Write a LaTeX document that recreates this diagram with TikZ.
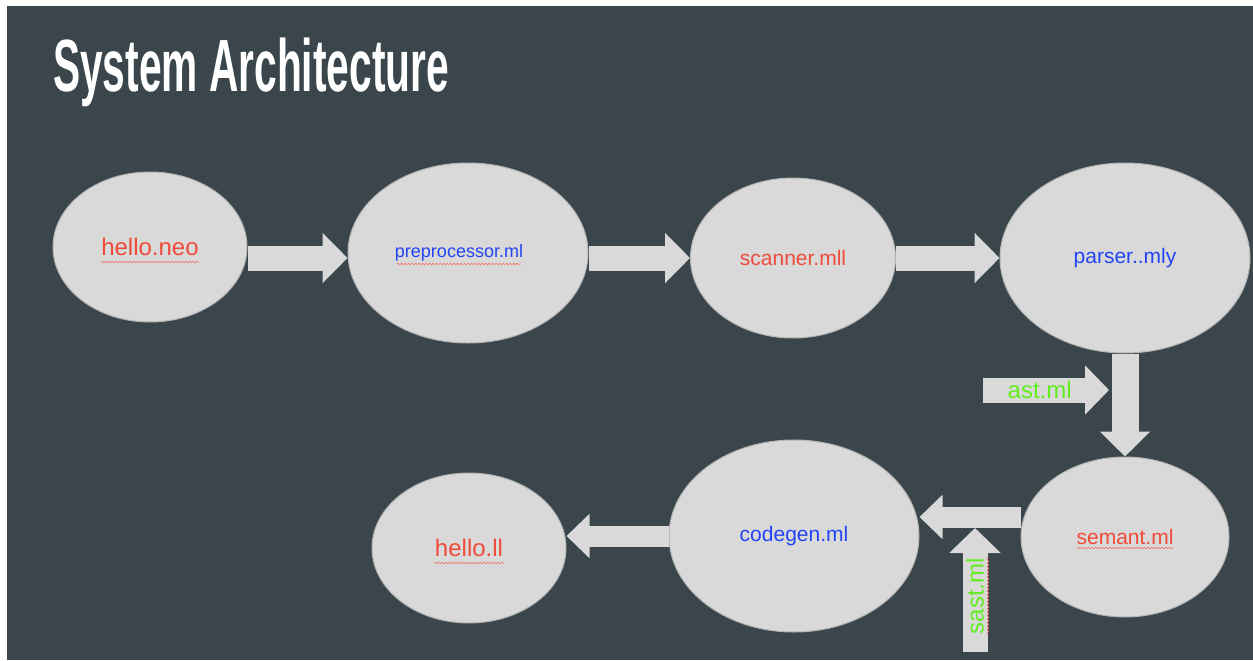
\documentclass[tikz,border=0pt]{standalone}
\usepackage{fontspec}
\setmainfont{Liberation Sans}
\newfontfamily\titlefont[FakeStretch=0.55]{Liberation Sans}
\usetikzlibrary{arrows.meta,shapes.geometric,decorations.pathmorphing}
\definecolor{slate}{HTML}{3A464B}
\definecolor{bubble}{HTML}{D9D9D9}
\definecolor{rim}{HTML}{B4B4B4}
\definecolor{srcred}{HTML}{F04A3A}
\definecolor{mlblue}{HTML}{2244F4}
\definecolor{astgreen}{HTML}{62EE1E}

\begin{document}
\begin{tikzpicture}[x=1pt,y=-1pt]
  \tikzset{stage/.style={ellipse,draw=rim,line width=1pt,fill=bubble,inner sep=0pt},
    flow/.style={draw=bubble,line width=25pt,-{Triangle[length=25pt,width=49pt]}},
    thin flow/.style={draw=bubble,line width=21pt,-{Triangle[length=23pt,width=43pt]}},
    squiggle/.style={draw=srcred!80,line width=0.6pt,decorate,decoration={snake,amplitude=0.8pt,segment length=3.5pt}},
    big/.style={font=\fontsize{24}{28}\selectfont},
    mid/.style={font=\fontsize{21}{25}\selectfont}}
  \useasboundingbox (0,0) rectangle (1253,661);
  \fill[white] (0,0) rectangle (1253,661);
  \fill[slate] (7,6) rectangle (1253,660);
  \node[anchor=base west,inner sep=0pt,text=white,font=\titlefont\bfseries\fontsize{74}{80}\selectfont] (title) at (53,92) {System Architecture};
  % compiler stages
  \node[stage,big,minimum width=194pt,minimum height=150pt,text=srcred] (neo) at (150,247) {hello.neo};
  \node[stage,minimum width=240pt,minimum height=180pt,text=mlblue,font=\fontsize{18}{22}\selectfont] (pre) at (468,253) {\raisebox{-3pt}{preprocessor.ml}\kern18pt};
  \node[stage,mid,minimum width=205pt,minimum height=160pt,text=srcred] (scan) at (793,258) {scanner.mll};
  \node[stage,mid,minimum width=250pt,minimum height=190pt,text=mlblue] (parse) at (1125,258) {parser..mly};
  \node[stage,mid,minimum width=208pt,minimum height=160pt,text=srcred] (sem) at (1125,537) {semant.ml};
  \node[stage,mid,minimum width=250pt,minimum height=192pt,text=mlblue] (gen) at (794,536) {codegen.ml};
  \node[stage,big,minimum width=194pt,minimum height=150pt,text=srcred] (ll) at (469,548) {hello.ll};
  \coordinate (split) at ([yshift=20pt]sem.west);
  \coordinate (ast-in) at (983,390);
  \coordinate (ast-tip) at (1109,390);
  \coordinate (sast-in) at (975,652);
  \coordinate (sast-tip) at (975,528);
  % block arrows
  \draw[flow] (neo.east |- scan.west) -- (pre.west |- scan.west);
  \draw[flow] (pre.east |- scan.west) -- (scan.west);
  \draw[flow] (scan.east) -- (parse.west);
  \draw[flow,line width=27pt] (parse.south) -- (sem.north);
  \draw[thin flow] (split) -- (split -| gen.east);
  \draw[thin flow] (gen.west) -- (gen.west -| ll.east);
  \draw[flow,-{Triangle[length=24pt,width=48pt]}] (ast-in) -- node[pos=0.45,big,text=astgreen] (ast-lbl) {ast.ml} (ast-tip);
  \draw[flow,-{Triangle[length=25pt,width=50pt]}] (sast-in) -- node[pos=0.45,big,rotate=90,text=astgreen] (sast-lbl) {sast.ml} (sast-tip);
  % spell-check marks
  \draw[squiggle] ([shift={(-49,15)}]neo.center) -- ++(98,0);
  \draw[squiggle] ([shift={(-71,11)}]pre.center) -- ++(124,0);
  \draw[squiggle] ([shift={(-35,15)}]ll.center) -- ++(70,0);
  \draw[squiggle] ([shift={(-48,11)}]sem.center) -- ++(96,0);
  \draw[squiggle] ([shift={(13,38)}]sast-lbl.center) -- ++(0,-77);
\end{tikzpicture}
\end{document}
